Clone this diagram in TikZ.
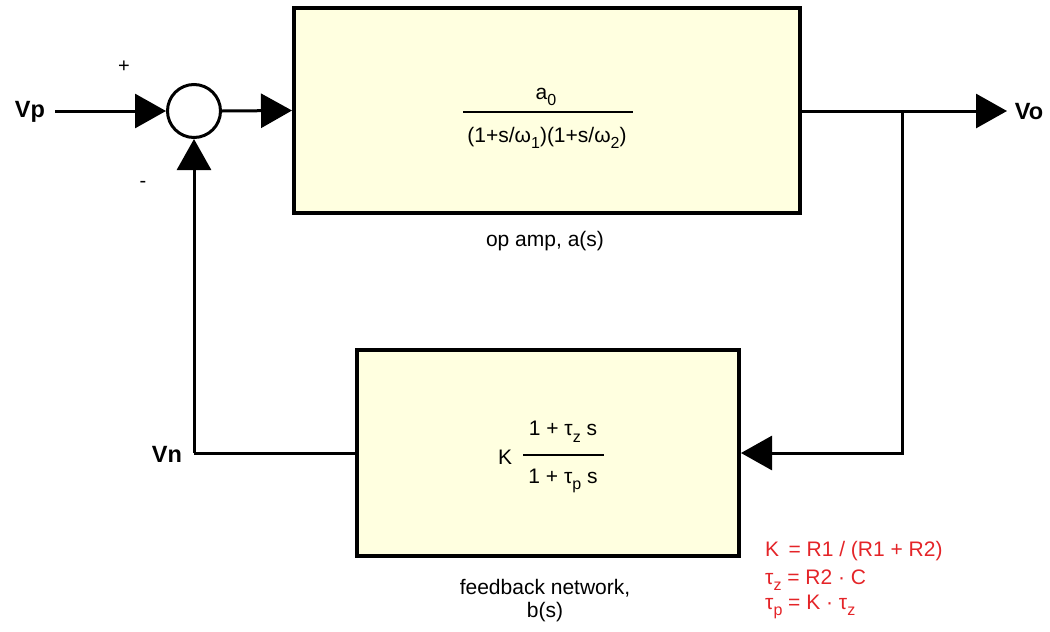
\documentclass[tikz,border=0pt]{standalone}
\usepackage{fontspec}
\setmainfont{Liberation Sans}
\usetikzlibrary{arrows.meta}
\definecolor{blockfill}{RGB}{255,255,224}
\definecolor{notered}{RGB}{228,36,40}
\newcommand{\lowsub}[1]{\raisebox{-0.6ex}{\fontsize{16}{16}\selectfont #1}}
\tikzset{
  blockbox/.style={draw=black, line width=4pt, fill=blockfill, rectangle, inner sep=0pt},
  sumnode/.style={draw=black, line width=3pt, fill=white, circle, minimum size=53pt, inner sep=0pt},
  conn/.style={line width=3pt, black},
  arr/.style={conn, -{Triangle[length=31pt,width=34pt]}},
  sig/.style={font=\fontsize{23.5}{26}\selectfont\bfseries, inner sep=0pt},
  txt/.style={font=\fontsize{21}{24}\selectfont, inner sep=0pt},
  sign/.style={font=\fontsize{20}{24}\selectfont, inner sep=0pt},
  note/.style={font=\fontsize{21}{24}\selectfont, text=notered, inner sep=0pt, anchor=west},
  fracline/.style={line width=1.6pt, black}
}
\begin{document}
\begin{tikzpicture}[x=1pt,y=-1pt]
\useasboundingbox (0,0) rectangle (1050,632);
% blocks
\node[blockbox, minimum width=506pt, minimum height=205pt] (amp) at (547,110.5) {};
\node[blockbox, minimum width=382pt, minimum height=206pt] (fb) at (548,453) {};
\node[sumnode] (sum) at (194,111) {};
% signal labels
\node[sig] (vp) at (30,112) {Vp};
\node[sig] (vo) at (1029,112) {Vo};
\node[sig] (vn) at (167,454) {Vn};
\node[sign] (plus) at (124,67) {+};
\node[sign] (minus) at (143,184) {-};
% coordinates
\coordinate (vpin) at (55,111);
\coordinate (votip) at (1007,111);
\coordinate (br) at (902,111);
\coordinate (vncorner) at (194,453);
% connectors
\draw[arr] (vpin) -- (sum.west);
\draw[arr] (sum.east) -- (amp.west);
\draw[arr] (amp.east |- br) -- (votip);
\draw[arr] (br) |- (fb.east);
\draw[conn] (fb.west) -- (vncorner);
\draw[arr] (vncorner) -- (sum.south);
% op amp transfer function
\node[txt] (a0) at (546,97) {a\lowsub{0}};
\coordinate (fl1) at (463,112);
\coordinate (fr1) at (633,112);
\draw[fracline] (fl1) -- (fr1);
\node[txt] (aden) at (547,138) {(1+s/ω\lowsub{1})(1+s/ω\lowsub{2})};
\node[txt] (amplabel) at (545,241) {op amp, a(s)};
% feedback transfer function
\node[txt] (kk) at (505,457) {K};
\node[txt] (bnum) at (563,432) {1 + τ\lowsub{z} s};
\coordinate (fl2) at (523,455);
\coordinate (fr2) at (604,455);
\draw[fracline] (fl2) -- (fr2);
\node[txt] (bden) at (563,481) {1 + τ\lowsub{p} s};
\node[txt, align=center] (fblabel) at (545,601) {feedback network,\\[-1pt] b(s)};
% notes
\node[note] (n1) at (765,551) {K\, = R1 / (R1 + R2)};
\node[note] (n2) at (765,580) {τ\lowsub{z} = R2 · C};
\node[note] (n3) at (765,607) {τ\lowsub{p} = K · τ\lowsub{z}};
\end{tikzpicture}
\end{document}
